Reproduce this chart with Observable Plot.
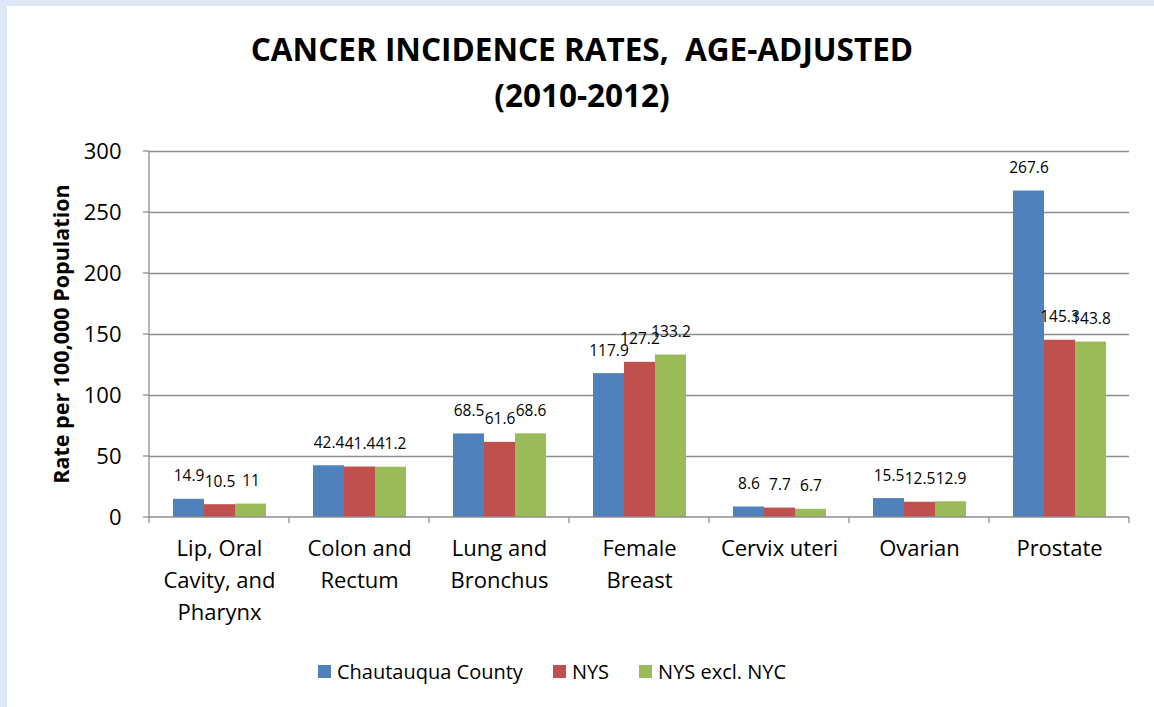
<!DOCTYPE html>
<html>
<head>
<meta charset="utf-8">
<script src="https://cdn.jsdelivr.net/npm/d3@7"></script>
<script src="https://cdn.jsdelivr.net/npm/@observablehq/plot@0.6"></script>
<style>
  html, body { margin: 0; padding: 0; width: 1154px; height: 707px; overflow: hidden; background: #dee8f4; }
  #panel { position: absolute; left: 7px; top: 6px; width: 1147px; height: 701px; background: #fff; }
  #title { position: absolute; left: 0; top: 26px; width: 1164px; text-align: center; font-family: "Open Sans", sans-serif; font-weight: bold; font-size: 31.5px; line-height: 46px; color: #000; }
  #chart { position: absolute; left: 0; top: 130px; }
  #legend { position: absolute; left: 318px; top: 658px; display: flex; align-items: center; font-family: "Open Sans", sans-serif; font-size: 20px; color: #000; }
  .item { display: flex; align-items: center; margin-right: 30px; }
  .sw { width: 13px; height: 13px; margin-right: 6px; }
</style>
</head>
<body>
<div id="panel"></div>
<div id="title">CANCER INCIDENCE RATES,&nbsp; AGE-ADJUSTED<br>(2010-2012)</div>
<div id="chart"></div>
<div id="legend"></div>
<script>
const categories = ["Lip, Oral Cavity, and Pharynx", "Colon and Rectum", "Lung and Bronchus", "Female Breast", "Cervix uteri", "Ovarian", "Prostate"];
const categoryLabels = ["Lip, Oral\nCavity, and\nPharynx", "Colon and\nRectum", "Lung and\nBronchus", "Female\nBreast", "Cervix uteri", "Ovarian", "Prostate"];
const series = ["Chautauqua County", "NYS", "NYS excl. NYC"];
const chautauqua = [14.9, 42.4, 68.5, 117.9, 8.6, 15.5, 267.6];
const nys = [10.5, 41.4, 61.6, 127.2, 7.7, 12.5, 145.3];
const nysExclNyc = [11, 41.2, 68.6, 133.2, 6.7, 12.9, 143.8];
const yTicks = [0, 50, 100, 150, 200, 250, 300];
const yLabel = "Rate per 100,000 Population";
const colors = ["#4f81bd", "#c0504d", "#9bbb59"];

const seriesValues = [chautauqua, nys, nysExclNyc];
const data = [];
categories.forEach((c, i) => {
  series.forEach((s, j) => data.push({category: c, series: s, value: seriesValues[j][i]}));
});
const labelData = categories.map((c, i) => ({category: c, label: categoryLabels[i]}));

const font = "Open Sans, sans-serif";
const gridColor = "#8e8e8e";

const plot = Plot.plot({
  width: 1154,
  height: 510,
  marginLeft: 147,
  marginRight: 24,
  marginTop: 21,
  marginBottom: 123,
  style: {fontFamily: font, background: "transparent", overflow: "visible"},
  fx: {domain: categories, padding: 0, axis: null},
  x: {domain: series, paddingInner: 0, paddingOuter: 0.757, axis: null},
  y: {domain: [0, 300], axis: null},
  color: {domain: series, range: colors},
  marks: [
    Plot.gridY(yTicks.slice(1), {stroke: gridColor, strokeOpacity: 1, strokeWidth: 1.3}),
    Plot.barY(data, {fx: "category", x: "series", y: "value", fill: "series"}),
    Plot.text(data, {fx: "category", x: "series", y: "value", text: d => String(d.value), dy: -23, fontSize: 15.5, fill: "#000"}),
    Plot.text(labelData, {fx: "category", text: "label", frameAnchor: "bottom", lineAnchor: "top", dy: 16, lineHeight: 1.45, fontSize: 22, fill: "#000"}),
    Plot.axisY({ticks: yTicks, tickSize: 0, tickPadding: 28, fontSize: 22, label: null, color: "#000"})
  ]
});

// axis lines and boundary ticks drawn from the plot's own scales
const fx = plot.scale("fx");
const y = plot.scale("y");
const svg = d3.select(plot);
const g = svg.append("g").attr("stroke", gridColor).attr("stroke-width", 1.3);
const x0 = fx.apply(categories[0]);
const x1 = fx.apply(categories[categories.length - 1]) + fx.bandwidth;
const yz = y.apply(0);
g.append("line").attr("x1", x0).attr("x2", x1).attr("y1", yz).attr("y2", yz);
g.append("line").attr("x1", x0).attr("x2", x0).attr("y1", y.apply(300)).attr("y2", yz + 6);
categories.forEach(c => {
  const xb = fx.apply(c);
  if (xb !== x0) g.append("line").attr("x1", xb).attr("x2", xb).attr("y1", yz).attr("y2", yz + 6);
});
g.append("line").attr("x1", x1).attr("x2", x1).attr("y1", yz).attr("y2", yz + 6);
yTicks.forEach(t => {
  const yt = y.apply(t);
  g.append("line").attr("x1", x0 - 6).attr("x2", x0).attr("y1", yt).attr("y2", yt);
});
const yMid = (y.apply(0) + y.apply(300)) / 2;
svg.append("text")
  .attr("transform", `translate(60,${yMid}) rotate(-90)`)
  .attr("text-anchor", "middle")
  .attr("dominant-baseline", "central")
  .attr("font-family", font)
  .attr("font-weight", "bold")
  .attr("font-size", 21.5)
  .attr("fill", "#000")
  .text(yLabel);

document.getElementById("chart").appendChild(plot);

const legend = d3.select("#legend");
series.forEach((s, i) => {
  const item = legend.append("div").attr("class", "item");
  item.append("div").attr("class", "sw").style("background", colors[i]);
  item.append("span").text(s);
});
</script>
</body>
</html>
